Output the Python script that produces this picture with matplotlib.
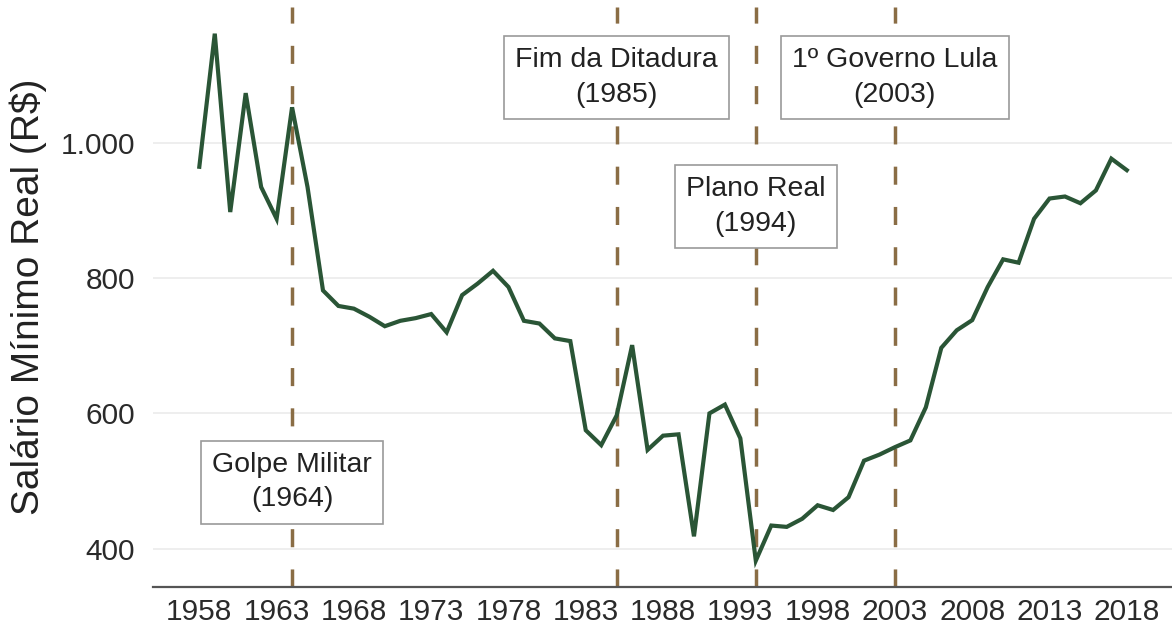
import matplotlib
matplotlib.use("Agg")
import matplotlib.pyplot as plt

plt.rcParams['font.family'] = ['Liberation Sans', 'DejaVu Sans']

years = list(range(1958, 2019))
salario = [965, 1162, 898, 1074, 935, 888, 1053, 935, 782, 759, 755, 743, 729, 737,
           741, 747, 720, 775, 792, 811, 787, 737, 733, 711, 707, 575, 553, 597,
           701, 546, 567, 569, 418, 600, 613, 563, 382, 434, 432, 444, 464, 457,
           476, 530, 539, 550, 560, 609, 697, 723, 738, 787, 828, 823, 888, 918,
           921, 911, 930, 977, 960]

event_years = [1964, 1985, 1994, 2003]
event_labels = ["Golpe Militar\n(1964)", "Fim da Ditadura\n(1985)",
                "Plano Real\n(1994)", "1º Governo Lula\n(2003)"]
event_label_y = [498, 1097, 906, 1097]

xtick_years = list(range(1958, 2019, 5))
yticks = [400, 600, 800, 1000]
ytick_labels = ["400", "600", "800", "1.000"]

fig = plt.figure(figsize=(11.72, 6.31), dpi=100)
ax = fig.add_axes([0.1305, 0.0697, 0.8705, 0.9187])

ax.set_xlim(1955, 2021)
ax.set_ylim(343, 1201)

for v in yticks:
    ax.axhline(v, color="#ebebeb", lw=1.2, zorder=0)

for ey in event_years:
    ax.axvline(ey, color="#8a6d45", lw=2.5, dashes=(5.2, 6.4), zorder=2)

ax.plot(years, salario, color="#2a5536", lw=3.0, zorder=3, solid_joinstyle="miter")

for ey, lab, ly in zip(event_years, event_labels, event_label_y):
    ax.text(ey, ly, lab, ha="center", va="center", fontsize=20.5, color="#222222",
            linespacing=1.42, zorder=4,
            bbox=dict(boxstyle="square,pad=0.4", fc="white", ec="#9a9a9a", lw=1.2))

ax.set_xticks(xtick_years)
ax.set_xticklabels([str(y) for y in xtick_years])
ax.set_yticks(yticks)
ax.set_yticklabels(ytick_labels)
ax.tick_params(axis="both", length=0, labelsize=21.5, colors="#2a2a2a")
ax.tick_params(axis="x", pad=8)
ax.tick_params(axis="y", pad=13)

for s in ["top", "right", "left"]:
    ax.spines[s].set_visible(False)
ax.spines["bottom"].set_color("#555555")
ax.spines["bottom"].set_linewidth(1.6)

ax.set_ylabel("Salário Mínimo Real (R$)", fontsize=28, color="#222222", labelpad=10)

fig.savefig("out.png", dpi=100, facecolor="white")
